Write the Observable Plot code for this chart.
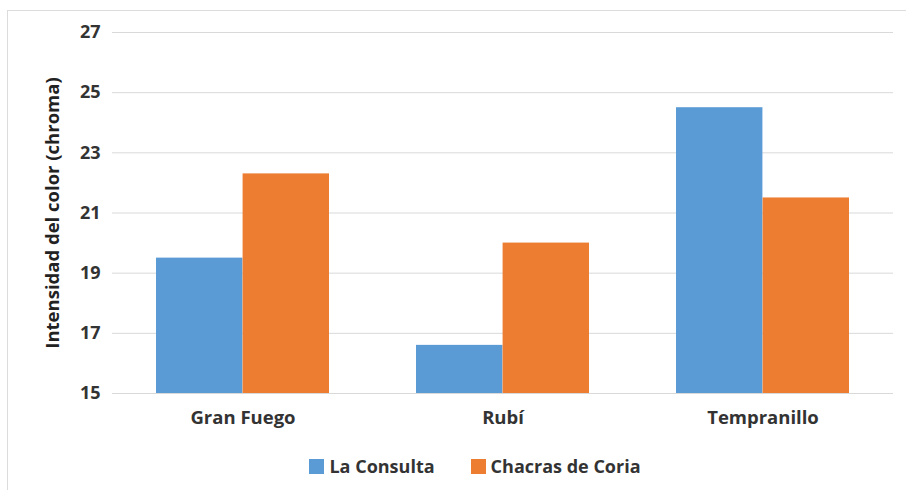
<!DOCTYPE html>
<html>
<head>
<meta charset="utf-8">
<script src="https://cdn.jsdelivr.net/npm/d3@7"></script>
<script src="https://cdn.jsdelivr.net/npm/@observablehq/plot@0.6"></script>
<style>
  html, body { margin: 0; padding: 0; background: #fff; }
  #frame {
    position: absolute; left: 7px; top: 10px; right: 0; bottom: 0;
    border-top: 1px solid #dcdcdc; border-left: 1px solid #dcdcdc;
    pointer-events: none;
  }
  #chart { position: absolute; left: 0; top: 0; }
  #legend {
    position: absolute; left: 0; top: 447px; width: 906px; height: 38px;
    box-sizing: border-box; padding-left: 44px;
    display: flex; justify-content: center; align-items: center; gap: 36px;
    font-family: "Open Sans", sans-serif; font-weight: 700; font-size: 18px; color: #333;
  }
  .item { display: flex; align-items: center; gap: 5px; }
  .swatch { width: 15px; height: 15px; display: inline-block; }
</style>
</head>
<body>
<div id="chart"></div>
<div id="legend"></div>
<div id="frame"></div>
<script>
// Color intensity (chroma) by grape variety and growing site
const categories = ["Gran Fuego", "Rubí", "Tempranillo"];
const seriesNames = ["La Consulta", "Chacras de Coria"];
const laConsulta = [19.5, 16.6, 24.5];
const chacrasDeCoria = [22.3, 20.0, 21.5];
const yTicks = [15, 17, 19, 21, 23, 25, 27];
const colors = ["#5B9BD5", "#ED7D31"];

const width = 906, height = 445;
const marginLeft = 112, marginRight = 13, marginTop = 32, marginBottom = 52;
const paddingInner = 0.335, paddingOuter = 0.167;

// Half of each category band, so the two series sit side by side
const step = (width - marginLeft - marginRight) / (categories.length - paddingInner + 2 * paddingOuter);
const half = step * (1 - paddingInner) / 2;

const rows = (values) => categories.map((c, i) => ({category: c, value: values[i]}));

const font = "'Open Sans', sans-serif";

const chart = Plot.plot({
  width, height, marginLeft, marginRight, marginTop, marginBottom,
  style: {fontFamily: font, background: "transparent"},
  x: {domain: categories, paddingInner, paddingOuter, label: null},
  y: {domain: [15, 27], label: null},
  marks: [
    Plot.ruleY(yTicks, {stroke: "#d9d9d9", strokeWidth: 1}),
    Plot.barY(rows(laConsulta), {x: "category", y1: 15, y2: "value", fill: colors[0], insetRight: half}),
    Plot.barY(rows(chacrasDeCoria), {x: "category", y1: 15, y2: "value", fill: colors[1], insetLeft: half}),
    Plot.axisY(yTicks, {tickSize: 0, tickPadding: 12, fontSize: 18, fontWeight: 700, fill: "#333", label: null}),
    Plot.axisX({tickSize: 0, tickPadding: 17, fontSize: 18.5, fontWeight: 700, fill: "#333", label: null}),
    Plot.text(["Intensidad del color (chroma)"], {
      frameAnchor: "left", textAnchor: "middle", dx: -59, rotate: -90,
      fontSize: 18.5, fontWeight: 700, fill: "#222"
    })
  ]
});
document.getElementById("chart").append(chart);

const legend = document.getElementById("legend");
seriesNames.forEach((name, i) => {
  const item = document.createElement("span");
  item.className = "item";
  const sw = document.createElement("span");
  sw.className = "swatch";
  sw.style.background = colors[i];
  item.append(sw, document.createTextNode(name));
  legend.append(item);
});
</script>
</body>
</html>
